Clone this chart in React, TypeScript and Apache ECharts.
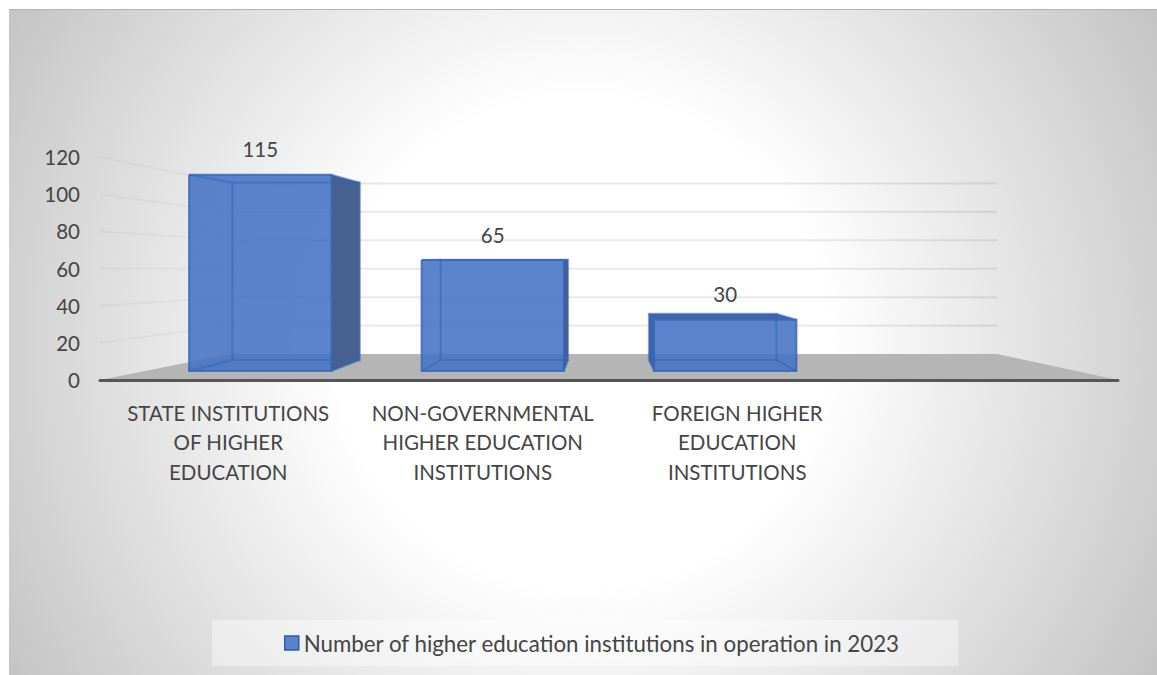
import React, { useEffect, useRef } from "react";
import * as echarts from "echarts";

// Chart content
const categories = [
  "STATE INSTITUTIONS\nOF HIGHER\nEDUCATION",
  "NON-GOVERNMENTAL\nHIGHER EDUCATION\nINSTITUTIONS",
  "FOREIGN HIGHER\nEDUCATION\nINSTITUTIONS",
  "",
];
const seriesName = "Number of higher education institutions in operation in 2023";
const institutions = [115, 65, 30];
const gridValues = [20, 40, 60, 80, 100, 120];

const FONT = "Lato, 'Open Sans', sans-serif";
const TEXT = "#454545";

// Perspective planes of the 3D box, each one a squeezed copy of the front axis:
// a plane keeps the axis's horizontal span [left, right], its zero level and its value scale.
const AXIS = { left: 100, right: 1118, bottom: 380, height: 223 };
const WALL = { left: 230, right: 997, zero: 354, scale: 0.765 };
const BAR_FRONT = { left: 144, right: 1074, zero: 371, scale: 0.918 };
const BAR_BACK = { left: 192, right: 1025, zero: 360, scale: 0.83 };
const BAR_SHARE = 0.612; // bar width as a share of its category band

type Plane = { left: number; right: number; zero: number; scale: number };
const planeX = (p: Plane, x: number) =>
  p.left + ((x - AXIS.left) / (AXIS.right - AXIS.left)) * (p.right - p.left);
const planeY = (p: Plane, y: number) => p.zero - (AXIS.bottom - y) * p.scale;

const renderFloor = () => ({
  type: "polygon",
  shape: {
    points: [
      [AXIS.left, AXIS.bottom],
      [WALL.left, WALL.zero],
      [WALL.right, WALL.zero],
      [AXIS.right, AXIS.bottom],
    ],
  },
  style: { fill: "#b5b5b5" },
});

const renderGridLine = (_: unknown, api: any) => {
  const y = api.coord([0, api.value(0)])[1];
  const backY = planeY(WALL, y);
  return {
    type: "group",
    children: [
      {
        type: "line",
        shape: { x1: AXIS.left, y1: y, x2: WALL.left, y2: backY },
        style: { stroke: "rgba(0,0,0,0.035)", lineWidth: 2 },
      },
      {
        type: "line",
        shape: { x1: WALL.left, y1: backY, x2: WALL.right, y2: backY },
        style: { stroke: "rgba(0,0,0,0.085)", lineWidth: 2 },
      },
    ],
  };
};

const renderBar = (_: unknown, api: any) => {
  const value = api.value(1);
  const [cx, top] = api.coord([api.value(0), value]);
  const half = (api.size([1, 0])[0] * BAR_SHARE) / 2;

  const fl = planeX(BAR_FRONT, cx - half);
  const fr = planeX(BAR_FRONT, cx + half);
  const ft = planeY(BAR_FRONT, top);
  const fb = BAR_FRONT.zero;
  const bl = planeX(BAR_BACK, cx - half);
  const br = planeX(BAR_BACK, cx + half);
  const bt = planeY(BAR_BACK, top);
  const bb = BAR_BACK.zero;

  const face = (points: number[][], fill: string) => ({
    type: "polygon",
    shape: { points },
    style: { fill },
  });
  const edge = (points: number[][], opacity: number) => ({
    type: "polyline",
    shape: { points },
    style: { stroke: `rgba(50,100,185,${opacity})`, lineWidth: 2, fill: "none" },
  });

  const children: any[] = [];
  // Sides that stick out past the front face are the shaded ones.
  if (br > fr) children.push(face([[fr, ft], [br, bt], [br, bb], [fr, fb]], "#46618f"));
  if (bl < fl) children.push(face([[fl, ft], [bl, bt], [bl, bb], [fl, fb]], "#3f64aa"));
  if (bt < ft) children.push(face([[fl, ft], [bl, bt], [br, bt], [fr, ft]], "#3f64aa"));
  children.push(face([[fl, ft], [fr, ft], [fr, fb], [fl, fb]], "rgba(68,114,196,0.87)"));
  children.push(
    edge([[bl, bb], [bl, bt], [br, bt], [br, bb], [bl, bb]], 0.55),
    edge([[fl, ft], [bl, bt]], 0.55),
    edge([[fr, ft], [br, bt]], 0.55),
    edge([[fl, fb], [bl, bb]], 0.55),
    edge([[fr, fb], [br, bb]], 0.55),
    edge([[fl, ft], [fr, ft], [fr, fb], [fl, fb], [fl, ft]], 0.8),
  );
  children.push({
    type: "text",
    style: {
      text: String(value),
      x: (fl + fr) / 2,
      y: ft - 25.5,
      fill: TEXT,
      font: `20.5px ${FONT}`,
      align: "center",
      verticalAlign: "middle",
    },
  });
  return { type: "group", children };
};

export default function App() {
  const ref = useRef<HTMLDivElement>(null);

  useEffect(() => {
    if (!ref.current) return;
    const chart = echarts.init(ref.current, undefined, { renderer: "svg" });
    chart.setOption({
      animation: false,
      textStyle: { fontFamily: FONT },
      graphic: [
        {
          type: "rect",
          z: -10,
          silent: true,
          shape: { x: 9, y: 9, width: 1148, height: 666 },
          style: {
            fill: new echarts.graphic.RadialGradient(
              582,
              342,
              680,
              [
                { offset: 0, color: "#ffffff" },
                { offset: 0.36, color: "#ffffff" },
                { offset: 1, color: "#c2c2c2" },
              ],
              true,
            ),
          },
        },
        {
          type: "line",
          z: -9,
          silent: true,
          shape: { x1: 9, y1: 9.5, x2: 1157, y2: 9.5 },
          style: { stroke: "#b4b4b4", lineWidth: 1 },
        },
      ],
      grid: {
        left: AXIS.left,
        top: AXIS.bottom - AXIS.height,
        width: AXIS.right - AXIS.left,
        height: AXIS.height,
      },
      xAxis: {
        type: "category",
        data: categories,
        z: 5,
        axisTick: { show: false },
        axisLine: { show: true, lineStyle: { color: "#565656", width: 3 } },
        axisLabel: {
          interval: 0,
          margin: 18,
          color: TEXT,
          fontSize: 20.5,
          lineHeight: 29.5,
          fontFamily: FONT,
          padding: [0, 0, 0, 2],
        },
      },
      yAxis: {
        type: "value",
        min: 0,
        max: 120,
        interval: 20,
        axisLine: { show: false },
        axisTick: { show: false },
        splitLine: { show: false },
        axisLabel: { margin: 20, color: TEXT, fontSize: 20.5, fontFamily: FONT },
      },
      legend: {
        left: 212,
        top: 620,
        backgroundColor: "rgba(255,255,255,0.4)",
        padding: [12, 58, 12, 72],
        itemWidth: 14,
        itemHeight: 14,
        data: [
          {
            name: seriesName,
            icon: "rect",
            itemStyle: { color: "#5b83ca", borderColor: "#2f5cad", borderWidth: 1.5 },
          },
        ],
        textStyle: { color: TEXT, fontSize: 22.3, fontFamily: FONT, lineHeight: 22 },
        selectedMode: false,
      },
      series: [
        {
          type: "custom",
          name: "floor",
          z: 1,
          silent: true,
          data: [[0]],
          encode: { x: -1, y: -1 },
          renderItem: renderFloor,
        },
        {
          type: "custom",
          name: "gridlines",
          z: 1,
          silent: true,
          data: gridValues.map((v) => [v]),
          encode: { x: -1, y: -1 },
          renderItem: renderGridLine,
        },
        {
          type: "custom",
          name: seriesName,
          z: 3,
          silent: true,
          data: institutions.map((v, i) => [i, v]),
          encode: { x: 0, y: 1 },
          renderItem: renderBar,
        },
      ],
    });
    return () => chart.dispose();
  }, []);

  return (
    <div
      ref={ref}
      style={{ position: "absolute", left: 0, top: 0, width: 1157, height: 675 }}
    />
  );
}
